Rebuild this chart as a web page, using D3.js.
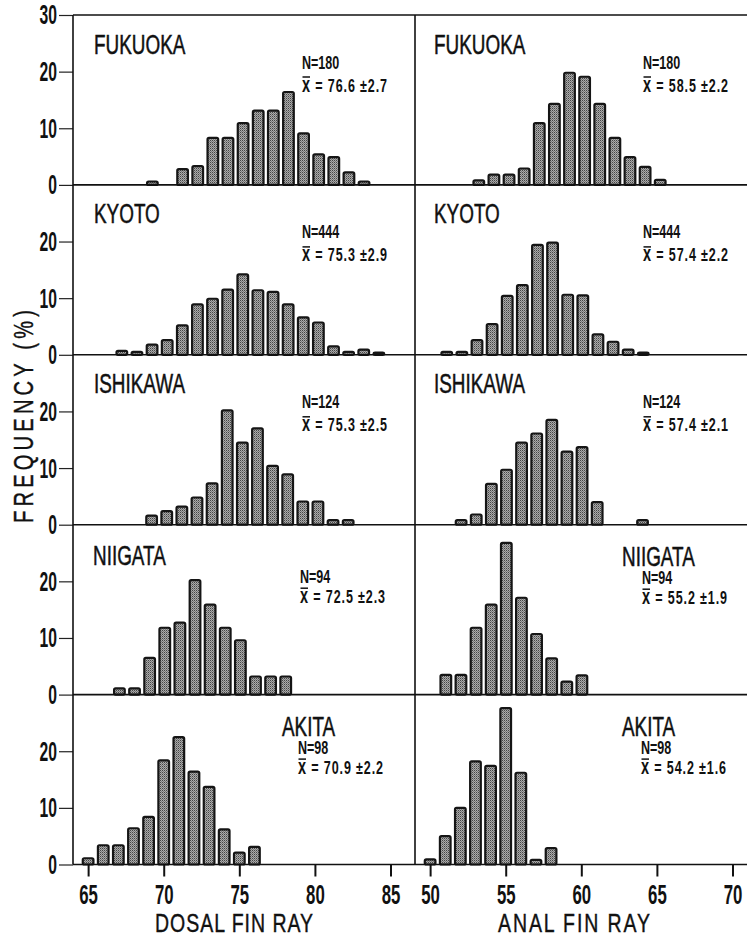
<!DOCTYPE html>
<html>
<head>
<meta charset="utf-8">
<script src="https://cdn.jsdelivr.net/npm/d3@7"></script>
<style>
body { margin: 0; background: #fff; }
svg { display: block; }
text { font-family: "Liberation Sans", Arial, sans-serif; fill: #111; }
</style>
</head>
<body>
<svg id="chart"></svg>
<script>
// Data (frequency in %)
var sites = ["FUKUOKA", "KYOTO", "ISHIKAWA", "NIIGATA", "AKITA"];
var sampleN = [180, 444, 124, 94, 98];

var dorsalStart = [69, 67, 69, 67, 65];
var dorsalFreq = [
    [0.6, 0, 2.8, 3.3, 8.3, 8.3, 10.9, 13.1, 13.1, 16.4, 9.1, 5.4, 4.9, 2.2, 0.6],
    [0.7, 0.5, 1.8, 2.6, 5.2, 8.9, 9.9, 11.5, 14.2, 11.4, 11.1, 8.9, 6.6, 5.7, 1.5, 0.5, 0.9, 0.4],
    [1.6, 2.4, 3.2, 4.8, 7.3, 20.2, 14.5, 17.0, 10.4, 8.9, 4.1, 4.1, 0.8, 0.8],
    [1.1, 1.1, 6.5, 11.8, 12.7, 20.2, 15.9, 11.8, 9.6, 3.2, 3.2, 3.2],
    [1.1, 3.4, 3.4, 6.4, 8.4, 18.4, 22.5, 16.4, 13.7, 6.2, 2.1, 3.1]
];
var dorsalMean = ["76.6", "75.3", "75.3", "72.5", "70.9"];
var dorsalSd = ["2.7", "2.9", "2.5", "2.3", "2.2"];

var analStart = [53, 51, 52, 51, 50];
var analFreq = [
    [0.8, 1.8, 1.8, 2.9, 10.9, 14.3, 19.8, 19.1, 14.3, 8.3, 4.9, 3.2, 0.9],
    [0.5, 0.5, 2.6, 5.4, 10.4, 12.3, 19.4, 19.8, 10.6, 10.5, 3.6, 2.3, 0.9, 0.4],
    [0.8, 1.8, 7.2, 9.7, 14.5, 16.1, 18.5, 12.9, 13.7, 4.0, 0, 0, 0.8],
    [3.5, 3.5, 11.8, 15.9, 26.8, 17.1, 10.7, 6.4, 2.3, 3.4],
    [0.9, 5.0, 10.0, 18.2, 17.4, 27.6, 16.2, 0.8, 2.9]
];
var analMean = ["58.5", "57.4", "57.4", "55.2", "54.2"];
var analSd = ["2.2", "2.2", "2.1", "1.9", "1.6"];

var dorsalTicks = [65, 70, 75, 80, 85];
var analTicks = [50, 55, 60, 65, 70];

// Layout
var width = 747, height = 939;
var top0 = 15, rowH = 169.9;
var leftX = 73, midX = 415, rightX = 747;
// the printed bars sit slightly right of the axis in the upper panels
var shiftL = [0.25, 0.23, 0.2, 0.07, 0];
var shiftR = [0.22, 0.1, 0.05, 0.04, 0];
var labL = [
    {nx: 94, ny: 38.5, sx: 302, sy: 53.5, my: 76.5},
    {nx: 94, ny: 38.5, sx: 302, sy: 53.5, my: 76.5},
    {nx: 94, ny: 38.5, sx: 302, sy: 53.5, my: 76.5},
    {nx: 93, ny: 40, sx: 300, sy: 58.5, my: 78},
    {nx: 282, ny: 41, sx: 298, sy: 59.5, my: 79}
];
var labR = [
    {nx: 434, ny: 38.5, sx: 643, sy: 53.5, my: 76.5},
    {nx: 434, ny: 38.5, sx: 643, sy: 53.5, my: 76.5},
    {nx: 434, ny: 38.5, sx: 643, sy: 53.5, my: 76.5},
    {nx: 622, ny: 41, sx: 642, sy: 59.5, my: 79},
    {nx: 622, ny: 41, sx: 641, sy: 59.5, my: 79}
];

var svg = d3.select("#chart").attr("width", width).attr("height", height);

// halftone fill for the bars
var pat = svg.append("defs").append("pattern")
    .attr("id", "dots").attr("width", 2).attr("height", 2)
    .attr("patternUnits", "userSpaceOnUse");
pat.append("rect").attr("width", 2).attr("height", 2).attr("fill", "#ababab");
pat.append("rect").attr("width", 1).attr("height", 1).attr("fill", "#454545");
pat.append("rect").attr("x", 1).attr("y", 1).attr("width", 1).attr("height", 1).attr("fill", "#787878");

var xD = d3.scaleLinear().domain([64.0, 86.62]).range([leftX, midX]);
var xA = d3.scaleLinear().domain([49.0, 70.96]).range([midX, rightX]);
var bw = (xD(1) - xD(0)) * 0.85;

function label(g, x, y, txt, size, weight, sx) {
    return g.append("text")
        .attr("transform", "translate(" + x + "," + y + ") scale(" + sx + ",1)")
        .attr("font-size", size)
        .attr("font-weight", weight)
        .text(txt);
}

function statBlock(g, lab, top, n, mean, sd) {
    label(g, lab.sx, top + lab.sy, "N=" + n, 19, "bold", 0.66);
    var t = label(g, lab.sx, top + lab.my, "", 19, "bold", 0.66)
        .attr("textLength", 85 / 0.66).attr("lengthAdjust", "spacing");
    t.append("tspan").attr("font-size", 22).text("x");
    t.append("tspan").text(" = " + mean + " \u00b1" + sd);
    // bar over the x (sample mean)
    g.append("line")
        .attr("x1", lab.sx + 0.5).attr("x2", lab.sx + 8)
        .attr("y1", top + lab.my - 14.5).attr("y2", top + lab.my - 14.5)
        .attr("stroke", "#111").attr("stroke-width", 1.5);
}

function bars(g, x, y, start, freq, shift) {
    var data = freq.map(function (f, k) {
        return {v: start + k, f: f};
    }).filter(function (d) { return d.f > 0; });

    g.selectAll(null)
        .data(data)
        .enter().append("rect")
        .attr("x", function (d) { return x(d.v + shift) - bw / 2 + 1.1; })
        .attr("y", function (d) { return y(d.f); })
        .attr("width", bw - 2.2)
        .attr("height", function (d) { return y(0) - y(d.f); })
        .attr("rx", 1.5)
        .attr("fill", "url(#dots)")
        .attr("stroke", "#151515")
        .attr("stroke-width", 2.2);
}

var plot = svg.append("g");

sites.forEach(function (site, i) {
    var top = top0 + i * rowH;
    var y = d3.scaleLinear().domain([0, 30]).range([top + rowH, top]);

    bars(plot, xD, y, dorsalStart[i], dorsalFreq[i], shiftL[i]);
    bars(plot, xA, y, analStart[i], analFreq[i], shiftR[i]);

    // y axis for this row
    var ya = plot.append("g")
        .attr("transform", "translate(" + leftX + ",0)")
        .call(d3.axisLeft(y)
            .tickValues(i == 0 ? [0, 10, 20, 30] : [0, 10, 20])
            .tickSize(14).tickSizeOuter(0));
    ya.select(".domain").remove();
    ya.selectAll("line").attr("stroke", "#222").attr("stroke-width", 1.2);
    ya.selectAll("text")
        .attr("font-family", null)
        .attr("font-size", 28)
        .attr("font-weight", "bold")
        .attr("x", -16 / 0.56)
        .attr("transform", "scale(0.56,1)");

    // baseline of the row
    plot.append("line")
        .attr("x1", leftX).attr("x2", rightX)
        .attr("y1", y(0)).attr("y2", y(0))
        .attr("stroke", "#111").attr("stroke-width", 1.6);

    // site names and statistics
    label(plot, labL[i].nx, top + labL[i].ny, site, 27, "normal", 0.7)
        .attr("stroke", "#111").attr("stroke-width", 0.5);
    statBlock(plot, labL[i], top, sampleN[i], dorsalMean[i], dorsalSd[i]);
    label(plot, labR[i].nx, top + labR[i].ny, site, 27, "normal", 0.7)
        .attr("stroke", "#111").attr("stroke-width", 0.5);
    statBlock(plot, labR[i], top, sampleN[i], analMean[i], analSd[i]);
});

var bottom = top0 + sites.length * rowH;

// frame
plot.append("line").attr("x1", leftX).attr("x2", rightX).attr("y1", top0).attr("y2", top0)
    .attr("stroke", "#111").attr("stroke-width", 1.6);
plot.append("line").attr("x1", leftX).attr("x2", leftX).attr("y1", top0).attr("y2", bottom)
    .attr("stroke", "#111").attr("stroke-width", 1.6);
plot.append("line").attr("x1", midX).attr("x2", midX).attr("y1", top0).attr("y2", bottom)
    .attr("stroke", "#111").attr("stroke-width", 1.6);

// x axes
[[xD, dorsalTicks], [xA, analTicks]].forEach(function (p) {
    var xa = plot.append("g")
        .attr("transform", "translate(0," + bottom + ")")
        .call(d3.axisBottom(p[0]).tickValues(p[1]).tickSize(12).tickPadding(8).tickSizeOuter(0));
    xa.select(".domain").remove();
    xa.selectAll("line").attr("stroke", "#111").attr("stroke-width", 2);
    xa.selectAll("text")
        .attr("font-family", null)
        .attr("font-size", 28)
        .attr("font-weight", "bold")
        .attr("transform", "scale(0.6,1)");
});

// axis titles
svg.append("text")
    .attr("transform", "translate(155,932) scale(0.75,1)")
    .attr("font-size", 26)
    .attr("stroke", "#111").attr("stroke-width", 0.4)
    .attr("textLength", 158 / 0.75).attr("lengthAdjust", "spacing")
    .text("DOSAL FIN RAY");
svg.append("text")
    .attr("transform", "translate(498,932) scale(0.75,1)")
    .attr("font-size", 26)
    .attr("stroke", "#111").attr("stroke-width", 0.4)
    .attr("textLength", 152 / 0.75).attr("lengthAdjust", "spacing")
    .text("ANAL FIN RAY");

svg.append("text")
    .attr("transform", "translate(33,416.5) rotate(-90) scale(0.72,1)")
    .attr("text-anchor", "middle")
    .attr("font-size", 28)
    .attr("stroke", "#111").attr("stroke-width", 0.4)
    .attr("textLength", 213 / 0.72).attr("lengthAdjust", "spacing")
    .text("FREQUENCY (%)");
</script>
</body>
</html>
